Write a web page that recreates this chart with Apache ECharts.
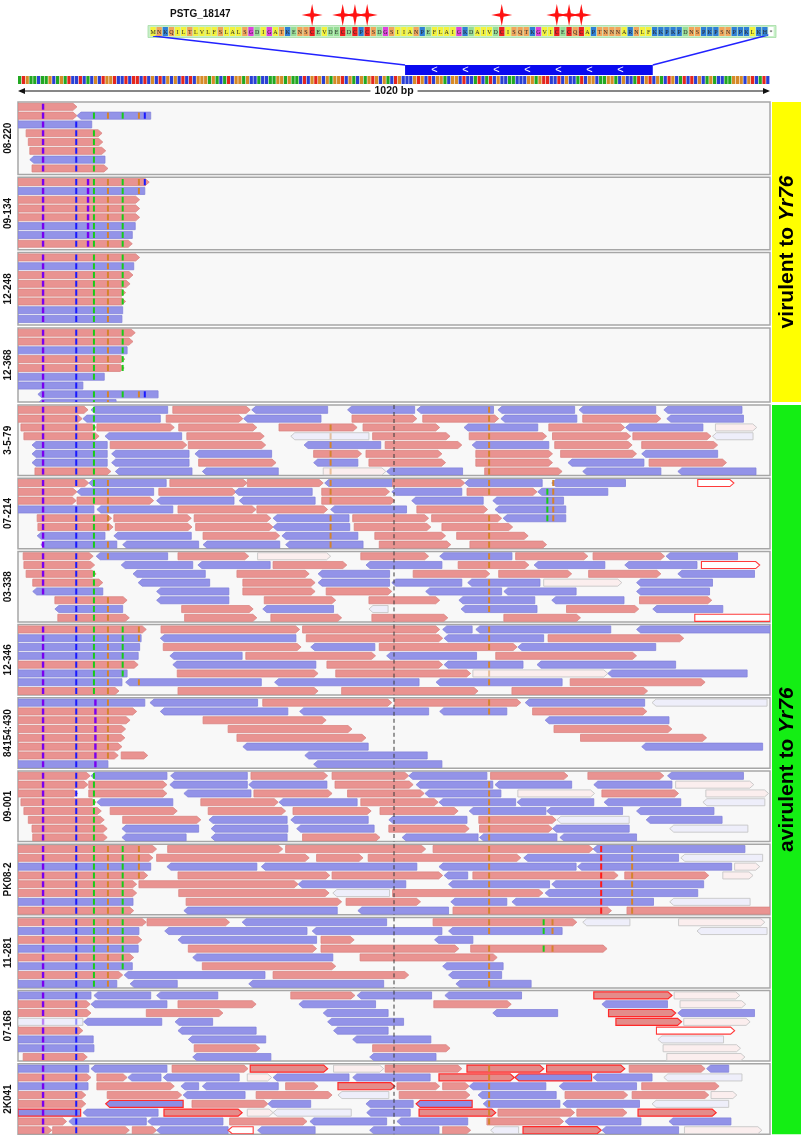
<!DOCTYPE html>
<html>
<head>
<meta charset="utf-8">
<title>PSTG_18147 read alignments</title>
<script src="https://cdn.jsdelivr.net/npm/echarts/dist/echarts.min.js"></script>
<style>
  html, body { margin: 0; padding: 0; background: #fff; }
  #main { width: 805px; height: 1140px; }
</style>
</head>
<body>
<div id="main"></div>
<script>
// ---- data ----
var SEQ_LENGTH = 1020;
var CENTER_BP = 510;
var CDS = [525, 861];
var GENE_ID = 'PSTG_18147';
var PROTEIN = 'MNKQILTLVLFSLALSGDIGATKENSCEVDECDCPCSDGSIIANPEFLAIGKDAIVDCISQTKGVICECQCAPTNNNARNLFKKPKPDNSPKPSNPPKLKH*';
var STAR_SITES = [27, 32, 34, 36, 58, 67, 69, 71];
var NUCLEOTIDES = 'ATGAACAAGCAGATCCTCACGCTGGTCCTCTTCTCGCTCGCGCTCTCGGGAGACATCGGAGCCACCAAGGAGAACTCGTGCGAGGTCGACGAGTGCGACTGCCCGTGCTCGGACGGCTCCATCATCGCCAACCCGGAGTTCCTCGCCATCGGCAAGGACGCCATCGTCGACTGCATCTCGCAGACCAAGGGCGTCATC';

var SAMPLES = ['08-220', '09-134', '12-248', '12-368', '3-5-79', '07-214', '03-338',
  '12-346', '84154:430', '09-001', 'PK08-2', '11-281', '07-168', '2K041'];

var GROUPS = [
  { label: 'virulent to ', italic: 'Yr76', from: 0, to: 3, color: '#ffff00' },
  { label: 'avirulent to ', italic: 'Yr76', from: 4, to: 13, color: '#14ee14' }
];

// reads: [row, start bp, end bp, type]
var R_08_220 = [[0,0,80,'F'],[1,0,80,'F'],[1,80,180,'R'],[2,0,100,'R'],[3,11,114,'F'],[4,14,115,'F'],
  [5,16,119,'F'],[6,16,118,'R'],[7,19,122,'F']];
var R_09_134 = [[0,0,178,'F'],[1,0,172,'R'],[2,0,165,'F'],[3,0,165,'F'],[4,0,165,'F'],[5,0,159,'R'],
  [6,0,155,'R'],[7,0,155,'F']];
var R_12_248 = [[0,0,165,'F'],[1,0,157,'R'],[2,0,156,'F'],[3,0,152,'F'],[4,0,146,'F'],[5,0,146,'F'],
  [6,0,142,'R'],[7,0,141,'R']];
var R_12_368 = [[0,0,159,'F'],[1,0,156,'F'],[2,0,148,'R'],[3,0,145,'F'],[4,0,144,'F'],[5,0,117,'R'],
  [6,0,88,'R'],[7,27,190,'R'],[8,27,133,'R']];
var R_3_5_79 = [
  [0,0,95,'F'],[0,99,203,'R'],[0,210,315,'F'],[0,317,420,'R'],[0,447,538,'R'],[0,541,645,'R'],[0,651,755,'R'],[0,761,865,'R'],[0,876,982,'R'],
  [1,0,87,'F'],[1,88,193,'R'],[1,201,305,'F'],[1,306,411,'R'],[1,453,541,'F'],[1,549,652,'F'],[1,655,758,'R'],[1,766,872,'F'],[1,880,984,'R'],
  [2,4,106,'F'],[2,107,212,'F'],[2,218,324,'F'],[2,354,460,'F'],[2,468,572,'F'],[2,605,705,'R'],[2,720,823,'F'],[2,824,929,'R'],[2,946,1002,'f'],
  [3,8,110,'F'],[3,118,222,'R'],[3,229,334,'F'],[3,370,476,'r'],[3,481,586,'F'],[3,612,717,'F'],[3,725,831,'F'],[3,834,940,'F'],[3,942,997,'r'],
  [4,19,121,'R'],[4,125,229,'F'],[4,231,336,'F'],[4,388,492,'R'],[4,498,602,'F'],[4,616,720,'R'],[4,728,833,'F'],[4,846,949,'F'],
  [5,19,121,'R'],[5,127,232,'R'],[5,240,344,'R'],[5,401,466,'F'],[5,472,575,'F'],[5,621,725,'F'],[5,736,839,'F'],[5,846,949,'R'],
  [6,19,121,'R'],[6,127,232,'R'],[6,245,350,'F'],[6,401,461,'R'],[6,476,580,'F'],[6,621,725,'F'],[6,746,849,'R'],[6,856,961,'F'],
  [7,23,126,'F'],[7,132,236,'R'],[7,250,353,'R'],[7,414,499,'f'],[7,500,603,'R'],[7,633,738,'F'],[7,766,872,'R'],[7,895,1001,'R']];
var R_07_214 = [
  [0,0,96,'F'],[0,96,201,'R'],[0,206,311,'F'],[0,311,414,'F'],[0,416,508,'R'],[0,508,606,'F'],[0,606,711,'R'],[0,724,824,'R'],[0,922,971,'fx'],
  [1,0,80,'F'],[1,80,184,'R'],[1,191,296,'F'],[1,294,399,'R'],[1,412,504,'F'],[1,507,602,'R'],[1,609,704,'F'],[1,705,800,'R'],
  [2,0,79,'F'],[2,80,184,'F'],[2,188,293,'R'],[2,300,403,'R'],[2,412,511,'F'],[2,534,631,'R'],[2,644,740,'R'],
  [3,0,103,'R'],[3,107,210,'R'],[3,217,323,'F'],[3,324,420,'F'],[3,424,527,'R'],[3,541,637,'F'],[3,647,743,'R'],
  [4,26,127,'F'],[4,130,235,'F'],[4,239,343,'F'],[4,346,449,'R'],[4,454,557,'F'],[4,561,656,'F'],[4,658,743,'R'],
  [5,27,129,'F'],[5,132,236,'F'],[5,241,346,'F'],[5,346,450,'R'],[5,456,560,'F'],[5,575,671,'F'],
  [6,26,118,'R'],[6,130,235,'R'],[6,251,355,'F'],[6,358,461,'R'],[6,484,580,'F'],[6,595,692,'F'],
  [7,31,134,'R'],[7,142,245,'R'],[7,251,355,'R'],[7,363,468,'R'],[7,490,587,'F'],[7,613,717,'F']];
var R_03_338 = [
  [0,7,102,'F'],[0,106,203,'R'],[0,217,313,'F'],[0,325,424,'f'],[0,465,557,'F'],[0,572,670,'R'],[0,675,773,'F'],[0,780,877,'F'],[0,879,976,'R'],
  [1,8,104,'F'],[1,140,237,'R'],[1,244,342,'R'],[1,346,446,'F'],[1,472,575,'R'],[1,597,693,'F'],[1,700,796,'R'],[1,823,921,'R'],[1,927,1006,'fx'],
  [2,11,106,'F'],[2,156,254,'R'],[2,297,395,'F'],[2,407,504,'R'],[2,536,640,'F'],[2,652,751,'F'],[2,774,872,'F'],[2,895,999,'R'],
  [3,20,115,'F'],[3,163,260,'R'],[3,305,403,'F'],[3,407,504,'R'],[3,507,602,'R'],[3,610,708,'R'],[3,713,819,'f'],[3,839,942,'R'],
  [4,20,115,'R'],[4,188,286,'R'],[4,305,403,'F'],[4,418,507,'F'],[4,553,656,'R'],[4,659,757,'R'],[4,839,938,'R'],
  [5,50,148,'F'],[5,188,286,'R'],[5,334,431,'F'],[5,476,572,'F'],[5,598,701,'R'],[5,724,822,'R'],[5,843,941,'F'],
  [6,50,142,'R'],[6,222,319,'F'],[6,332,428,'R'],[6,476,502,'r'],[6,601,704,'R'],[6,744,842,'F'],[6,861,956,'R'],
  [7,54,151,'F'],[7,226,324,'F'],[7,343,439,'F'],[7,480,583,'F'],[7,659,763,'F'],[7,918,1020,'fx']];
var R_12_346 = [
  [0,0,174,'F'],[0,194,382,'F'],[0,386,572,'F'],[0,576,616,'R'],[0,621,804,'R'],[0,839,1020,'R'],
  [1,0,167,'R'],[1,193,377,'R'],[1,391,576,'F'],[1,578,713,'R'],[1,719,903,'F'],
  [2,0,165,'R'],[2,197,384,'F'],[2,397,484,'R'],[2,490,677,'F'],[2,678,865,'R'],
  [3,0,163,'R'],[3,206,304,'R'],[3,309,485,'F'],[3,500,622,'R'],[3,648,839,'F'],
  [4,0,163,'F'],[4,210,404,'R'],[4,419,576,'F'],[4,578,685,'R'],[4,704,892,'R'],
  [5,0,148,'R'],[5,216,407,'F'],[5,431,614,'F'],[5,617,800,'f'],[5,800,989,'R'],
  [6,0,141,'R'],[6,146,330,'R'],[6,348,544,'R'],[6,567,738,'R'],[6,749,932,'F'],
  [7,0,137,'F'],[7,217,407,'F'],[7,439,624,'F'],[7,670,854,'F']];
var R_84154_430 = [
  [0,0,172,'R'],[0,179,325,'R'],[0,332,507,'F'],[0,511,682,'F'],[0,688,850,'R'],[0,860,1016,'r'],
  [1,0,161,'F'],[1,193,366,'R'],[1,382,557,'R'],[1,572,663,'R'],[1,698,853,'F'],
  [2,0,152,'F'],[2,251,418,'F'],[2,715,883,'R'],
  [3,0,146,'F'],[3,285,453,'F'],[3,727,887,'F'],
  [4,0,145,'F'],[4,297,472,'F'],[4,763,934,'F'],
  [5,0,141,'F'],[5,305,475,'R'],[5,846,1010,'R'],
  [6,0,136,'F'],[6,140,176,'F'],[6,389,555,'R'],
  [7,0,122,'R'],[7,401,575,'R']];
var R_09_001 = [
  [0,0,98,'F'],[0,99,202,'R'],[0,207,311,'R'],[0,316,420,'F'],[0,426,530,'F'],[0,530,636,'R'],[0,641,746,'F'],[0,773,876,'F'],[0,881,984,'R'],
  [1,0,95,'F'],[1,96,202,'F'],[1,206,311,'R'],[1,313,419,'R'],[1,430,536,'F'],[1,540,644,'R'],[1,647,751,'R'],[1,781,887,'R'],[1,892,998,'f'],
  [2,0,81,'F'],[2,96,202,'F'],[2,225,316,'R'],[2,320,426,'F'],[2,447,551,'F'],[2,552,655,'R'],[2,678,782,'f'],[2,792,896,'F'],[2,933,1018,'f'],
  [3,4,106,'F'],[3,107,210,'R'],[3,248,353,'F'],[3,354,460,'R'],[3,465,570,'F'],[3,571,675,'R'],[3,677,781,'R'],[3,795,899,'R'],[3,929,1013,'r'],
  [4,8,113,'F'],[4,125,216,'F'],[4,258,363,'F'],[4,373,479,'F'],[4,491,597,'F'],[4,612,716,'R'],[4,717,820,'R'],[4,839,944,'R'],
  [5,14,117,'F'],[5,142,248,'F'],[5,259,365,'R'],[5,370,475,'R'],[5,503,609,'R'],[5,625,730,'F'],[5,731,829,'r'],[5,852,955,'R'],
  [6,19,121,'F'],[6,141,245,'R'],[6,262,366,'R'],[6,378,483,'R'],[6,503,612,'F'],[6,626,725,'F'],[6,725,829,'R'],[6,884,990,'r'],
  [7,20,121,'F'],[7,141,228,'R'],[7,262,365,'R'],[7,386,491,'F'],[7,521,624,'R'],[7,626,731,'R'],[7,735,839,'R']];
var R_PK08_2 = [
  [0,0,188,'F'],[0,203,359,'F'],[0,363,553,'F'],[0,563,780,'F'],[0,780,986,'R'],
  [1,0,183,'F'],[1,188,395,'F'],[1,405,468,'F'],[1,475,682,'F'],[1,686,896,'R'],[1,899,1010,'r'],
  [2,0,180,'R'],[2,202,324,'R'],[2,330,541,'R'],[2,571,757,'R'],[2,759,968,'R'],[2,972,1006,'f'],
  [3,0,176,'F'],[3,217,423,'F'],[3,426,576,'F'],[3,578,610,'R'],[3,617,814,'F'],[3,823,937,'F'],[3,956,997,'f'],
  [4,0,161,'F'],[4,164,380,'F'],[4,380,526,'R'],[4,584,721,'R'],[4,724,930,'R'],
  [5,0,161,'F'],[5,218,422,'F'],[5,427,504,'r'],[5,508,712,'F'],[5,715,922,'R'],
  [6,0,156,'R'],[6,228,439,'F'],[6,445,546,'F'],[6,587,663,'R'],[6,670,862,'R'],[6,884,993,'r'],
  [7,0,157,'F'],[7,225,433,'R'],[7,461,584,'R'],[7,590,805,'F'],[7,826,1020,'F']];
var R_11_281 = [
  [0,0,174,'F'],[0,175,287,'F'],[0,304,500,'R'],[0,563,758,'F'],[0,766,830,'r'],[0,896,1013,'f'],
  [1,0,164,'R'],[1,199,392,'R'],[1,399,575,'R'],[1,584,738,'R'],[1,921,1016,'r'],
  [2,0,168,'F'],[2,217,405,'R'],[2,411,456,'F'],[2,565,617,'R'],
  [3,0,163,'R'],[3,231,405,'F'],[3,411,598,'F'],[3,614,799,'F'],
  [4,0,157,'F'],[4,237,427,'R'],[4,464,650,'F'],
  [5,0,155,'R'],[5,250,431,'F'],[5,576,658,'R'],
  [6,0,142,'F'],[6,144,335,'R'],[6,346,530,'F'],[6,584,656,'R'],
  [7,0,134,'R'],[7,152,216,'R'],[7,313,496,'R'],[7,594,696,'R']];
var R_07_168 = [
  [0,0,99,'R'],[0,103,180,'R'],[0,188,271,'R'],[0,370,457,'F'],[0,460,561,'R'],[0,579,683,'R'],[0,781,887,'Fx'],[0,890,979,'f'],
  [1,0,98,'F'],[1,99,202,'R'],[1,217,323,'F'],[1,381,485,'R'],[1,564,669,'F'],[1,792,881,'R'],[1,898,987,'f'],
  [2,0,99,'F'],[2,174,278,'F'],[2,414,502,'R'],[2,644,732,'R'],[2,801,892,'Fx'],[2,895,999,'R'],
  [3,0,88,'r'],[3,89,195,'R'],[3,213,264,'R'],[3,420,523,'R'],[3,811,900,'Fx'],[3,903,993,'f'],
  [4,0,88,'F'],[4,217,323,'R'],[4,428,502,'R'],[4,866,972,'fx'],
  [5,0,102,'R'],[5,231,336,'R'],[5,454,560,'R'],[5,868,957,'r'],
  [6,0,103,'R'],[6,239,328,'F'],[6,481,586,'F'],[6,875,980,'f'],
  [7,7,94,'F'],[7,237,343,'R'],[7,477,567,'R'],[7,880,986,'f']];
var R_2K041 = [
  [0,0,96,'R'],[0,99,202,'R'],[0,209,312,'F'],[0,315,420,'Fx'],[0,428,496,'f'],[0,498,602,'F'],[0,609,713,'Fx'],[0,717,823,'Fx'],[0,829,932,'F'],[0,934,964,'R'],
  [1,0,99,'F'],[1,107,148,'F'],[1,149,194,'R'],[1,197,300,'R'],[1,311,344,'f'],[1,346,449,'R'],[1,454,559,'R'],[1,571,673,'Fx'],[1,674,778,'Rx'],[1,780,860,'R'],[1,876,982,'r'],
  [2,0,95,'R'],[2,107,212,'F'],[2,221,245,'R'],[2,250,353,'R'],[2,363,407,'F'],[2,434,511,'Fx'],[2,514,572,'F'],[2,576,612,'F'],[2,612,716,'R'],[2,734,839,'R'],[2,846,951,'F'],
  [3,0,92,'F'],[3,121,222,'F'],[3,224,308,'R'],[3,323,426,'F'],[3,434,503,'r'],[3,517,613,'F'],[3,624,730,'R'],[3,742,827,'F'],[3,833,937,'F'],[3,940,975,'f'],
  [4,0,92,'F'],[4,119,224,'Rx'],[4,236,339,'F'],[4,339,397,'R'],[4,472,536,'R'],[4,540,616,'Rx'],[4,631,735,'R'],[4,739,843,'R'],[4,860,964,'r'],
  [5,0,85,'Rx'],[5,88,190,'R'],[5,198,304,'Fx'],[5,311,346,'f'],[5,346,452,'r'],[5,473,532,'R'],[5,544,648,'Fx'],[5,651,755,'F'],[5,758,826,'F'],[5,841,947,'Fx'],
  [6,0,66,'F'],[6,69,174,'R'],[6,176,278,'R'],[6,287,392,'F'],[6,396,500,'R'],[6,514,610,'R'],[6,636,740,'F'],[6,742,845,'R'],[6,883,967,'R'],
  [7,0,46,'F'],[7,47,151,'F'],[7,155,188,'F'],[7,188,285,'R'],[7,285,319,'rx'],[7,325,403,'R'],[7,477,571,'R'],[7,576,614,'F'],[7,641,679,'r'],[7,685,791,'Fx'],[7,792,896,'R'],[7,904,1009,'f']];

var READS = [R_08_220, R_09_134, R_12_248, R_12_368, R_3_5_79, R_07_214, R_03_338,
  R_12_346, R_84154_430, R_09_001, R_PK08_2, R_11_281, R_07_168, R_2K041];

// mismatch columns per sample: [bp, base colour key]
var VIR_SNPS = [[34,'P'],[79,'B'],[103,'G'],[122,'O'],[142,'G'],[164,'O'],[172,'B']];
var SNPS = [
  VIR_SNPS,
  VIR_SNPS.concat([[95,'P']]),
  VIR_SNPS,
  VIR_SNPS,
  [[34,'P'],[79,'B'],[103,'G'],[424,'O'],[639,'O']],
  [[34,'P'],[79,'B'],[103,'G'],[122,'O'],[424,'O'],[639,'O'],[718,'G'],[726,'O']],
  [[34,'P'],[79,'B'],[103,'G'],[122,'O'],[639,'O']],
  [[34,'P'],[79,'B'],[103,'G'],[122,'O'],[142,'G'],[164,'O'],[639,'O']],
  [[34,'P'],[79,'B'],[105,'P'],[122,'O'],[639,'O']],
  [[34,'P'],[79,'B'],[103,'G'],[639,'O']],
  [[34,'P'],[79,'B'],[103,'G'],[122,'O'],[142,'G'],[164,'O'],[639,'O'],[791,'R'],[833,'O']],
  [[34,'P'],[79,'B'],[103,'G'],[122,'O'],[142,'G'],[639,'O'],[713,'G'],[725,'O']],
  [[34,'P'],[79,'B']],
  [[34,'P'],[79,'B'],[639,'O']]
];

// ---- styles ----
var FONT = 'Liberation Sans, Arial, sans-serif';
var ROW_PX = 8.8;
var TYPE_KEYS = ['F', 'R', 'f', 'r', 'Fx', 'Rx', 'fx', 'rx'];
var TYPES = {
  F:  { fwd: true,  fill: '#e99391', stroke: '#db8583', lw: 0.8 },
  R:  { fwd: false, fill: '#9393e8', stroke: '#8484da', lw: 0.8 },
  f:  { fwd: true,  fill: '#fbeeee', stroke: '#c6c6c6', lw: 0.9, pale: true },
  r:  { fwd: false, fill: '#eeeefa', stroke: '#c6c6c6', lw: 0.9, pale: true },
  Fx: { fwd: true,  fill: '#e48c8a', stroke: '#ff2a2a', lw: 1.2 },
  Rx: { fwd: false, fill: '#8d8de3', stroke: '#ff2a2a', lw: 1.2 },
  fx: { fwd: true,  fill: '#ffffff', stroke: '#ff3a3a', lw: 1.1, pale: true },
  rx: { fwd: false, fill: '#ffffff', stroke: '#ff3a3a', lw: 1.1, pale: true }
};
var SNP_COLORS = { P: '#7a00f0', B: '#1a1aff', G: '#18cc18', O: '#d4842c', R: '#ff1a1a' };
var BASE_COLORS = { A: '#22a822', C: '#2a3fd4', G: '#d68a28', T: '#e4261e' };
function aaColor(c) {
  if ('AILMFVW'.indexOf(c) >= 0) return '#f4f23c';
  if (c === 'C') return '#f02020';
  if (c === 'G') return '#e040dc';
  if ('KRHP'.indexOf(c) >= 0) return '#2f7fd6';
  if ('DE'.indexOf(c) >= 0) return '#96dc96';
  if ('NQST'.indexOf(c) >= 0) return '#f2a45a';
  return '#ffffff';
}

// ---- layout ----
var TRACK = { left: 18, width: 752 };
var PROT = { left: 150, top: 27, width: 624, height: 9 };
var GENE = { top: 65, height: 30 };
var SIDE = { x: 772, w: 29 };
function panelBox(i) {
  if (i < 4) return { top: 102 + i * 75.3, height: i === 3 ? 74 : 72.5 };
  return { top: 405 + (i - 4) * 73.2, height: 70.5 };
}

function renderRead(snps) {
  return function (params, api) {
    var row = api.value(0), s = api.value(1), e = api.value(2);
    var t = TYPES[TYPE_KEYS[api.value(3)]];
    var a = api.coord([s, row + 0.55]);
    var b = api.coord([e, row + 0.55]);
    var h = ROW_PX * 0.8, y = a[1], top = y - h / 2, bot = y + h / 2;
    var x0 = a[0], x1 = b[0];
    var tip = Math.min(4, (x1 - x0) / 3);
    var pts;
    if (t.fwd && e < SEQ_LENGTH) pts = [[x0, top], [x1 - tip, top], [x1, y], [x1 - tip, bot], [x0, bot]];
    else if (!t.fwd && s > 0) pts = [[x0 + tip, top], [x1, top], [x1, bot], [x0 + tip, bot], [x0, y]];
    else pts = [[x0, top], [x1, top], [x1, bot], [x0, bot]];
    var children = [{ type: 'polygon', shape: { points: pts },
      style: { fill: t.fill, stroke: t.stroke, lineWidth: t.lw } }];
    snps.forEach(function (sn) {
      if (sn[0] > s + 1 && sn[0] < e - 1) {
        var x = api.coord([sn[0], 0])[0];
        var w = sn[1] === 'P' ? 2.4 : 2;
        children.push({ type: 'rect', shape: { x: x - w / 2, y: top + 0.5, width: w, height: h - 1 },
          style: { fill: SNP_COLORS[sn[1]], opacity: t.pale ? 0.45 : 1 } });
      }
    });
    return { type: 'group', children: children };
  };
}

var grids = [], xAxes = [], yAxes = [], series = [];

SAMPLES.forEach(function (name, i) {
  var box = panelBox(i);
  var yMax = box.height / ROW_PX;
  grids.push({ left: TRACK.left, width: TRACK.width, top: box.top, height: box.height,
    show: true, backgroundColor: '#f8f8f8', borderColor: '#a6a6a6', borderWidth: 1.5,
    containLabel: false, outerBoundsMode: 'none' });
  xAxes.push({ gridIndex: i, type: 'value', min: 0, max: SEQ_LENGTH, show: false });
  yAxes.push({ gridIndex: i, type: 'value', min: 0, max: yMax, inverse: true,
    name: name, nameLocation: 'middle', nameGap: 5, nameRotate: 90,
    nameTextStyle: { fontFamily: FONT, fontSize: 10, fontWeight: 'bold', color: '#111' },
    axisLine: { show: false }, axisTick: { show: false }, axisLabel: { show: false }, splitLine: { show: false } });
  series.push({ type: 'custom', xAxisIndex: i, yAxisIndex: i, clip: true, silent: true, z: 2,
    data: READS[i].map(function (r) { return [r[0], r[1], r[2], TYPE_KEYS.indexOf(r[3])]; }),
    renderItem: renderRead(SNPS[i]) });
  if (i >= 4) {
    series.push({ type: 'line', xAxisIndex: i, yAxisIndex: i, silent: true, z: 4,
      symbol: 'none', data: [[CENTER_BP, 0], [CENTER_BP, yMax]],
      lineStyle: { color: '#3a3a3a', width: 1, type: [4, 3] } });
  }
});

// protein grid
var P = SAMPLES.length;
grids.push({ left: PROT.left, top: PROT.top, width: PROT.width, height: PROT.height, outerBoundsMode: 'none' });
xAxes.push({ gridIndex: P, type: 'value', min: 0, max: PROTEIN.length, show: false });
yAxes.push({ gridIndex: P, type: 'value', min: 0, max: 1, show: false });
series.push({ type: 'custom', xAxisIndex: P, yAxisIndex: P, silent: true, z: 1,
  data: [[0, PROTEIN.length]],
  renderItem: function (params, api) {
    var a = api.coord([api.value(0), 1]), b = api.coord([api.value(1), 0]);
    return { type: 'rect', shape: { x: a[0] - 2, y: a[1] - 1.5, width: b[0] - a[0] + 4, height: b[1] - a[1] + 3 },
      style: { fill: '#c9f0c9', stroke: '#a4dca4', lineWidth: 0.8 } };
  } });
series.push({ type: 'custom', xAxisIndex: P, yAxisIndex: P, silent: true, z: 2,
  data: PROTEIN.split('').map(function (c, i) { return [i]; }),
  renderItem: function (params, api) {
    var i = api.value(0), ch = PROTEIN.charAt(i);
    var a = api.coord([i, 1]), b = api.coord([i + 1, 0]);
    return { type: 'group', children: [
      { type: 'rect', shape: { x: a[0] + 0.4, y: a[1], width: b[0] - a[0] - 0.8, height: b[1] - a[1] },
        style: { fill: aaColor(ch) } },
      { type: 'text', style: { x: (a[0] + b[0]) / 2, y: (a[1] + b[1]) / 2 + 0.5, text: ch, fill: '#2a2a2a',
        fontSize: 6, fontFamily: 'Liberation Serif, serif', align: 'center', verticalAlign: 'middle' } }
    ] };
  } });
series.push({ type: 'custom', xAxisIndex: P, yAxisIndex: P, silent: true, z: 3,
  data: STAR_SITES.map(function (n) { return [n - 0.5]; }),
  renderItem: function (params, api) {
    var c = api.coord([api.value(0), 1]);
    var cx = c[0], cy = c[1] - 12, o = 11, w = 10.5, k = 1.8;
    return { type: 'polygon', shape: { points: [[cx, cy - o], [cx + k, cy - k], [cx + w, cy], [cx + k, cy + k],
      [cx, cy + o], [cx - k, cy + k], [cx - w, cy], [cx - k, cy - k]] }, style: { fill: '#ff1212' } };
  } });

// gene grid
var G = P + 1;
grids.push({ left: TRACK.left, width: TRACK.width, top: GENE.top, height: GENE.height, outerBoundsMode: 'none' });
xAxes.push({ gridIndex: G, type: 'value', min: 0, max: SEQ_LENGTH, show: false });
yAxes.push({ gridIndex: G, type: 'value', min: 0, max: 3, inverse: true, show: false });
series.push({ type: 'custom', xAxisIndex: G, yAxisIndex: G, silent: true, z: 1,
  data: [[CDS[0], 0], [CDS[1], 1]],
  renderItem: function (params, api) {
    var to = api.coord([api.value(0), 0]);
    var from = api.value(1) === 0
      ? [PROT.left + 3, PROT.top + PROT.height]
      : [PROT.left + PROT.width - 2, PROT.top + PROT.height - 2];
    return { type: 'line', shape: { x1: from[0], y1: from[1], x2: to[0], y2: to[1] },
      style: { stroke: '#2222ff', lineWidth: 1.4 } };
  } });
series.push({ type: 'custom', xAxisIndex: G, yAxisIndex: G, silent: true, z: 2,
  data: [[CDS[0], CDS[1]]],
  renderItem: function (params, api) {
    var s = api.value(0), e = api.value(1);
    var a = api.coord([s, 0]), b = api.coord([e, 1]);
    var children = [{ type: 'rect', shape: { x: a[0], y: a[1], width: b[0] - a[0], height: b[1] - a[1] },
      style: { fill: '#0a0af0' } }];
    for (var p = s + 40; p < e - 20; p += 42) {
      var m = api.coord([p, 0.5]);
      children.push({ type: 'text', style: { x: m[0], y: m[1], text: '<', fill: '#ffffff', fontSize: 11,
        fontFamily: FONT, align: 'center', verticalAlign: 'middle' } });
    }
    return { type: 'group', children: children };
  } });
series.push({ type: 'custom', xAxisIndex: G, yAxisIndex: G, silent: true, z: 2,
  data: NUCLEOTIDES.split('').map(function (c, i) { return [i]; }),
  renderItem: function (params, api) {
    var i = api.value(0), w = SEQ_LENGTH / NUCLEOTIDES.length;
    var a = api.coord([i * w, 1.1]), b = api.coord([(i + 1) * w, 1.9]);
    return { type: 'rect', shape: { x: a[0], y: a[1], width: Math.max(0.5, b[0] - a[0] - 0.6), height: b[1] - a[1] },
      style: { fill: BASE_COLORS[NUCLEOTIDES.charAt(i)] } };
  } });
series.push({ type: 'custom', xAxisIndex: G, yAxisIndex: G, silent: true, z: 2,
  data: [[0, SEQ_LENGTH]],
  renderItem: function (params, api) {
    var a = api.coord([api.value(0), 2.6]), b = api.coord([api.value(1), 2.6]);
    var y = a[1];
    return { type: 'group', children: [
      { type: 'line', shape: { x1: a[0] + 2, y1: y, x2: b[0] - 2, y2: y }, style: { stroke: '#111', lineWidth: 1.2 } },
      { type: 'polygon', shape: { points: [[a[0], y], [a[0] + 7, y - 3], [a[0] + 7, y + 3]] }, style: { fill: '#111' } },
      { type: 'polygon', shape: { points: [[b[0], y], [b[0] - 7, y - 3], [b[0] - 7, y + 3]] }, style: { fill: '#111' } },
      { type: 'text', style: { x: (a[0] + b[0]) / 2, y: y, text: SEQ_LENGTH + ' bp', fill: '#111',
        fontSize: 10.5, fontWeight: 'bold', fontFamily: FONT, align: 'center', verticalAlign: 'middle',
        backgroundColor: '#ffffff', padding: [0, 4] } }
    ] };
  } });

// group bars on the right
var graphic = [{ type: 'text', left: 170, top: 9, style: { text: GENE_ID, fill: '#111',
  font: 'bold 10px ' + FONT } }];
GROUPS.forEach(function (g) {
  var t = panelBox(g.from).top;
  var last = panelBox(g.to);
  var b = last.top + last.height;
  graphic.push({ type: 'rect', shape: { x: SIDE.x, y: t, width: SIDE.w, height: b - t }, style: { fill: g.color } });
  graphic.push({ type: 'text', x: SIDE.x + SIDE.w / 2 + 1, y: (t + b) / 2, rotation: Math.PI / 2,
    style: { text: '{n|' + g.label + '}{i|' + g.italic + '}', align: 'center', verticalAlign: 'middle',
      rich: {
        n: { fontFamily: FONT, fontSize: 21, fontWeight: 'bold', fill: '#000' },
        i: { fontFamily: FONT, fontSize: 21, fontWeight: 'bold', fontStyle: 'italic', fill: '#000' }
      } } });
});

var chart = echarts.init(document.getElementById('main'), null, { renderer: 'canvas' });
chart.setOption({
  animation: false,
  backgroundColor: '#ffffff',
  grid: grids,
  xAxis: xAxes,
  yAxis: yAxes,
  series: series,
  graphic: graphic
});
</script>
</body>
</html>
